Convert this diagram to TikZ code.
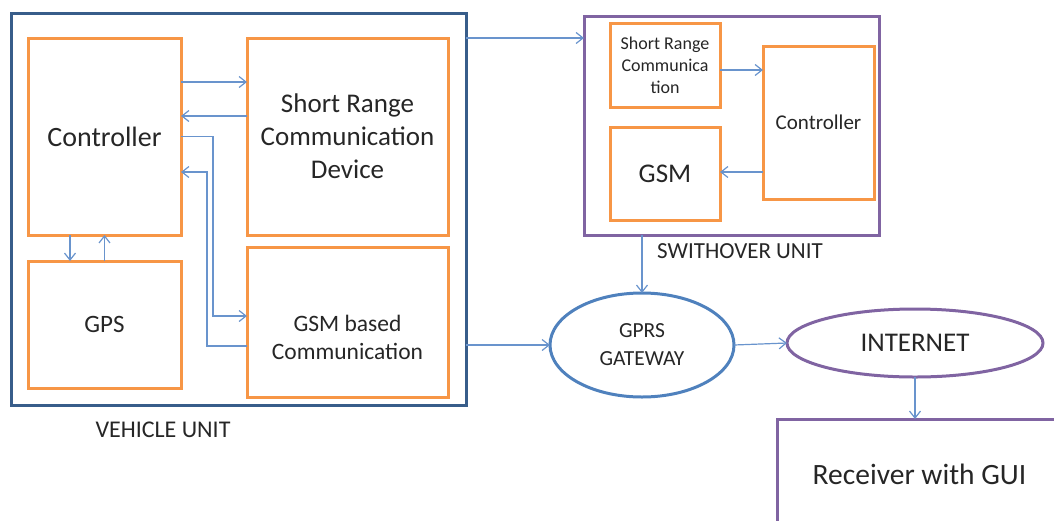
\documentclass[tikz,border=0pt]{standalone}
\usepackage{fontspec}
\setmainfont{Carlito}
\usetikzlibrary{shapes.geometric,arrows.meta}
\definecolor{boxorange}{RGB}{247,150,70}
\definecolor{unitblue}{RGB}{56,93,138}
\definecolor{unitpurple}{RGB}{128,100,162}
\definecolor{linkblue}{RGB}{105,148,205}
\definecolor{gateblue}{RGB}{79,129,189}

\begin{document}
\begin{tikzpicture}[x=1pt,y=-1pt,>={Straight Barb[length=7pt,width=11pt]},
    link/.style={draw=linkblue,line width=1.2pt}]
        \useasboundingbox (0,0) rectangle (1054,520);
        \clip (0,0) rectangle (1054,520);
        \begin{scope}[every node/.style={draw=boxorange,line width=3pt,inner sep=0pt,outer sep=0pt,align=center,text=black!85}]
            % vehicle unit
            \node[draw=unitblue,minimum width=455pt,minimum height=392pt] (1) at (238.5,209) {};
            \node[minimum width=153pt,minimum height=197pt,font=\fontsize{28}{33}\selectfont] (2) at (104.5,136.5) {Controller};
            \node[minimum width=201pt,minimum height=197pt,font=\fontsize{27}{33}\selectfont] (3) at (347.5,136.5) {Short Range\\Communication\\Device};
            \node[minimum width=153pt,minimum height=127pt,font=\fontsize{25}{30}\selectfont] (4) at (104.5,324.5) {GPS};
            \node[minimum width=201pt,minimum height=150pt,
                label={[draw=none,yshift=-15pt,font=\fontsize{23.5}{28}\selectfont]center:GSM based\\Communication}] (5) at (347.5,322) {};

            % switchover unit
            \node[draw=unitpurple,minimum width=295pt,minimum height=219pt] (6) at (731.5,125.5) {};
            \node[minimum width=110pt,minimum height=84pt,font=\fontsize{18}{22}\selectfont] (7) at (665,65) {Short Range\\Communica\\tion};
            \node[minimum width=110pt,minimum height=93pt,font=\fontsize{27}{32}\selectfont] (8) at (665,173.5) {GSM};
            \node[minimum width=111pt,minimum height=153pt,font=\fontsize{21}{25}\selectfont] (9) at (818.5,122.5) {Controller};

            % network side
            \node[ellipse,draw=gateblue,minimum width=184pt,minimum height=104pt,font=\fontsize{21.5}{28}\selectfont] (10) at (642,345) {GPRS\\GATEWAY};
            \node[ellipse,draw=unitpurple,minimum width=256pt,minimum height=68pt,font=\fontsize{27}{32}\selectfont] (11) at (915,343) {INTERNET};
            \node[draw=unitpurple,minimum width=285pt,minimum height=111pt,font=\fontsize{29.5}{35}\selectfont] (12) at (919.5,474.5) {Receiver with GUI};
        \end{scope}

        \node[text=black!85,font=\fontsize{24}{29}\selectfont] (13) at (163,430) {VEHICLE UNIT};
        \node[text=black!85,font=\fontsize{23}{28}\selectfont] (14) at (740,251) {SWITHOVER UNIT};

        \begin{scope}[every edge/.style={link}]
            \path [->] ([yshift=-44pt]2.north east) edge ([yshift=-44pt]3.north west);
            \path [->] ([yshift=-78pt]3.north west) edge ([yshift=-78pt]2.north east);
            \path [->] ([xshift=-34.5pt]2.south) edge ([xshift=-34.5pt]4.north);
            \path [->] (4.north) edge (2.south);
            \path [->] (1.east |- 3.north) edge (6.west |- 3.north);
            \path [->] (1.east |- 10.west) edge (10.west);
            \path [->] ([yshift=-5pt]7.east) edge ([yshift=-5pt]7.east -| 9.west);
            \path [->] ([yshift=-49.5pt]9.west) edge ([yshift=-49.5pt]9.west -| 8.east);
            \path [->] (6.south -| 10.north) edge (10.north);
            \path [->] (10.east) edge (11.west);
            \path [->] (11.south) edge (11.south |- 12.north);
        \end{scope}
        \draw[link,->] (2.east) -- ++(32,0) |- ([yshift=6pt]5.west);
        \draw[link,->] ([yshift=-24pt]5.west) -- ++(-40,0) |- ([yshift=-35.5pt]2.east);
    \end{tikzpicture}
\end{document}
